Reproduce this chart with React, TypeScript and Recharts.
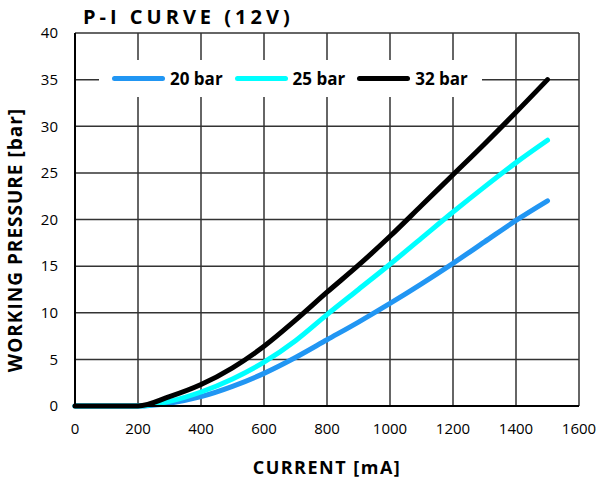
import React from "react"
import { CartesianGrid, Legend, Line, LineChart, XAxis, YAxis } from "recharts"

const current = [0, 100, 200, 300, 400, 500, 600, 700, 800, 900, 1000, 1100, 1200, 1300, 1400, 1500]
const bar20 = [0, 0, 0, 0.3, 1.0, 2.1, 3.5, 5.2, 7.1, 9.0, 11.0, 13.1, 15.3, 17.6, 19.9, 22]
const bar25 = [0, 0, 0, 0.5, 1.5, 2.9, 4.7, 7.0, 9.8, 12.5, 15.2, 18.0, 20.8, 23.5, 26.1, 28.5]
const bar32 = [0, 0, 0, 1.0, 2.3, 4.1, 6.4, 9.2, 12.2, 15.1, 18.2, 21.5, 24.8, 28.1, 31.5, 35]

const xTicks = [0, 200, 400, 600, 800, 1000, 1200, 1400, 1600]
const yTicks = [0, 5, 10, 15, 20, 25, 30, 35, 40]

const series = [
  { key: "b20", name: "20 bar", color: "#2196f3" },
  { key: "b25", name: "25 bar", color: "#00ffff" },
  { key: "b32", name: "32 bar", color: "#000000" },
]

const data = current.map((c, i) => ({
  current: c,
  b20: bar20[i],
  b25: bar25[i],
  b32: bar32[i],
}))

const font = "'Open Sans', sans-serif"

function LegendBox() {
  return (
    <div style={{ display: "flex", alignItems: "center", height: "100%", paddingLeft: 13, fontFamily: font }}>
      {series.map((s) => (
        <div key={s.key} style={{ display: "flex", alignItems: "center", marginRight: 12 }}>
          <div style={{ width: 53, height: 5, borderRadius: 3, background: s.color, marginRight: 5 }} />
          <span style={{ fontWeight: 700, fontSize: 17, color: "#000" }}>{s.name}</span>
        </div>
      ))}
    </div>
  )
}

export default function App() {
  return (
    <div style={{ position: "absolute", left: 0, top: 0, width: 599, height: 484, background: "#fff", fontFamily: font }}>
      <div
        style={{
          position: "absolute",
          left: 83,
          top: 5,
          fontSize: 20,
          fontWeight: 700,
          letterSpacing: 4,
          whiteSpace: "nowrap",
          lineHeight: "24px",
        }}
      >
        P-I CURVE (12V)
      </div>
      <div
        style={{
          position: "absolute",
          left: 327,
          top: 467,
          transform: "translate(-50%, -50%)",
          fontSize: 18,
          fontWeight: 700,
          letterSpacing: 1.5,
          whiteSpace: "nowrap",
        }}
      >
        CURRENT [mA]
      </div>
      <div
        style={{
          position: "absolute",
          left: 15,
          top: 240,
          transform: "translate(-50%, -50%) rotate(-90deg)",
          fontSize: 19,
          fontWeight: 700,
          letterSpacing: 1,
          whiteSpace: "nowrap",
        }}
      >
        WORKING PRESSURE [bar]
      </div>
      <LineChart width={599} height={484} data={data} margin={{ top: 33, right: 20, left: 0, bottom: 48 }}>
        <CartesianGrid stroke="#333" strokeWidth={1.5} />
        <XAxis
          dataKey="current"
          type="number"
          domain={[0, 1600]}
          ticks={xTicks}
          tickLine={false}
          tickSize={0}
          tickMargin={17}
          axisLine={{ stroke: "#000", strokeWidth: 2 }}
          tick={{ fill: "#000", fontSize: 15, fontFamily: font }}
          height={30}
        />
        <YAxis
          type="number"
          domain={[0, 40]}
          ticks={yTicks}
          tickLine={false}
          tickSize={0}
          tickMargin={17}
          axisLine={{ stroke: "#000", strokeWidth: 2 }}
          tick={{ fill: "#000", fontSize: 15, fontFamily: font }}
          width={75}
        />
        <Legend
          verticalAlign="middle"
          align="center"
          content={() => <LegendBox />}
          wrapperStyle={{ left: 99, top: 60, width: 383, height: 37, background: "#fff" }}
        />
        {series.map((s) => (
          <Line
            key={s.key}
            dataKey={s.key}
            name={s.name}
            type="monotone"
            stroke={s.color}
            strokeWidth={5}
            strokeLinecap="round"
            dot={false}
            isAnimationActive={false}
          />
        ))}
      </LineChart>
    </div>
  )
}
